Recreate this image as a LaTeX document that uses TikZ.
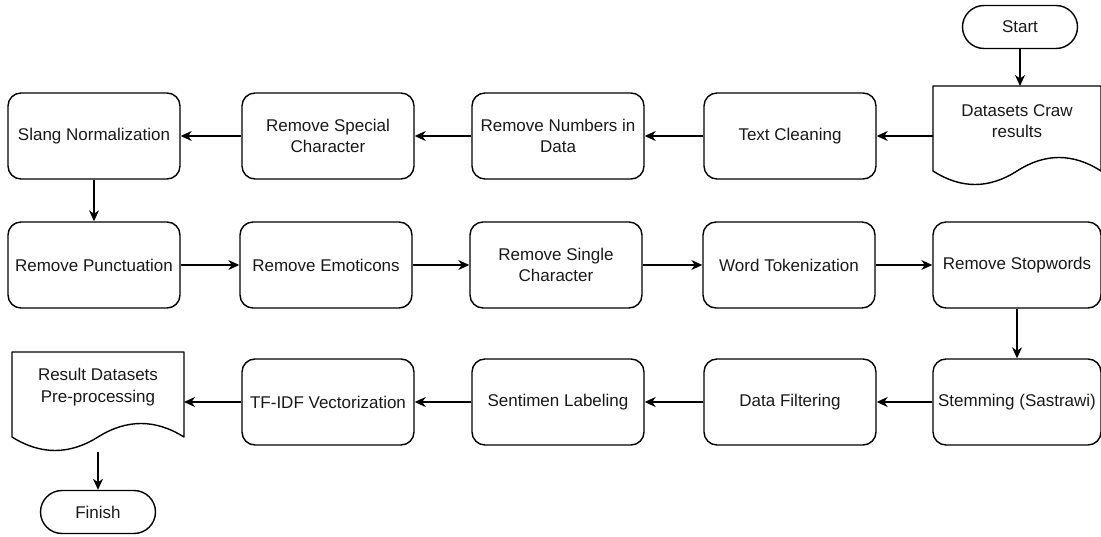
\documentclass[tikz,border=0pt]{standalone}
\usepackage{fontspec}
\setmainfont{Liberation Sans}
\usetikzlibrary{arrows.meta}
\begin{document}
\begin{tikzpicture}[x=1pt,y=-1pt,
  txt/.style={font=\fontsize{17}{21.5}\selectfont, text=black!90, align=center},
  box/.style={txt, draw, rounded corners=13pt, line width=1.4pt, minimum width=172pt, minimum height=86pt, inner sep=0pt},
  term/.style={txt, draw, rounded corners=21.5pt, line width=1.4pt, minimum width=115pt, minimum height=43pt, inner sep=0pt},
  docarea/.style={minimum width=#1, minimum height=100pt, inner sep=0pt, outer sep=0pt},
  docline/.style={draw, line width=1.4pt, line join=round},
  arr/.style={-{Stealth[length=11pt,width=10pt,inset=3.5pt]}, line width=1.4pt},
]
\useasboundingbox (0,0) rectangle (1101,537);

% terminals
\node[term] (start) at (1020,27) {Start};
\node[term] (finish) at (98,512) {Finish};

% row 1
\node[docarea=168pt] (ds) at (1017,136) {};
\path[docline] (ds.north west) -- (ds.north east) -- ([yshift=15pt]ds.south east)
  .. controls ([xshift=-28pt,yshift=33pt]ds.south east) and ([xshift=28pt,yshift=33pt]ds.south) .. ([yshift=15pt]ds.south)
  .. controls ([xshift=-28pt,yshift=-3pt]ds.south) and ([xshift=28pt,yshift=-3pt]ds.south west) .. ([yshift=15pt]ds.south west)
  -- cycle;
\node[txt] (dstext) at ([yshift=15pt]ds.center) {Datasets Craw\\results};

\node[box] (clean)   at (790,136)   {Text Cleaning};
\node[box] (numbers) at (558,136)   {Remove Numbers in\\Data};
\node[box] (special) at (328,136)   {Remove Special\\Character};
\node[box] (slang)   at (94,136)    {Slang Normalization};

% row 2
\node[box] (punct)  at (94,265)  {Remove Punctuation};
\node[box] (emot)   at (326,265) {Remove Emoticons};
\node[box] (single) at (556,265) {Remove Single\\Character};
\node[box] (token)  at (789,265) {Word Tokenization};
\node[box, minimum width=168pt] (stop) at (1017,265) {Remove Stopwords};

% row 3
\node[box, minimum width=168pt] (stem) at (1017,402) {Stemming (Sastrawi)};
\node[box] (filter) at (790,402) {Data Filtering};
\node[box] (senti)  at (558,402) {Sentimen Labeling};
\node[box] (tfidf)  at (328,402) {TF-IDF Vectorization};

\node[docarea=172pt] (res) at (98,402) {};
\path[docline] (res.north west) -- (res.north east) -- ([yshift=15pt]res.south east)
  .. controls ([xshift=-28.7pt,yshift=33pt]res.south east) and ([xshift=28.7pt,yshift=33pt]res.south) .. ([yshift=15pt]res.south)
  .. controls ([xshift=-28.7pt,yshift=-3pt]res.south) and ([xshift=28.7pt,yshift=-3pt]res.south west) .. ([yshift=15pt]res.south west)
  -- cycle;
\node[txt] (restext) at ([yshift=15pt]res.center) {Result Datasets\\Pre-processing};

% connectors
\draw[arr] (start.south) -- (start.south |- ds.north);
\draw[arr] (ds.west) -- (clean.east);
\draw[arr] (clean.west) -- (numbers.east);
\draw[arr] (numbers.west) -- (special.east);
\draw[arr] (special.west) -- (slang.east);
\draw[arr] (slang.south) -- (punct.north);
\draw[arr] (punct.east) -- (emot.west);
\draw[arr] (emot.east) -- (single.west);
\draw[arr] (single.east) -- (token.west);
\draw[arr] (token.east) -- (stop.west);
\draw[arr] (stop.south) -- (stem.north);
\draw[arr] (stem.west) -- (filter.east);
\draw[arr] (filter.west) -- (senti.east);
\draw[arr] (senti.west) -- (tfidf.east);
\draw[arr] (tfidf.west) -- (res.east);
\draw[arr] (res.south) -- (finish.north);
\end{tikzpicture}
\end{document}
